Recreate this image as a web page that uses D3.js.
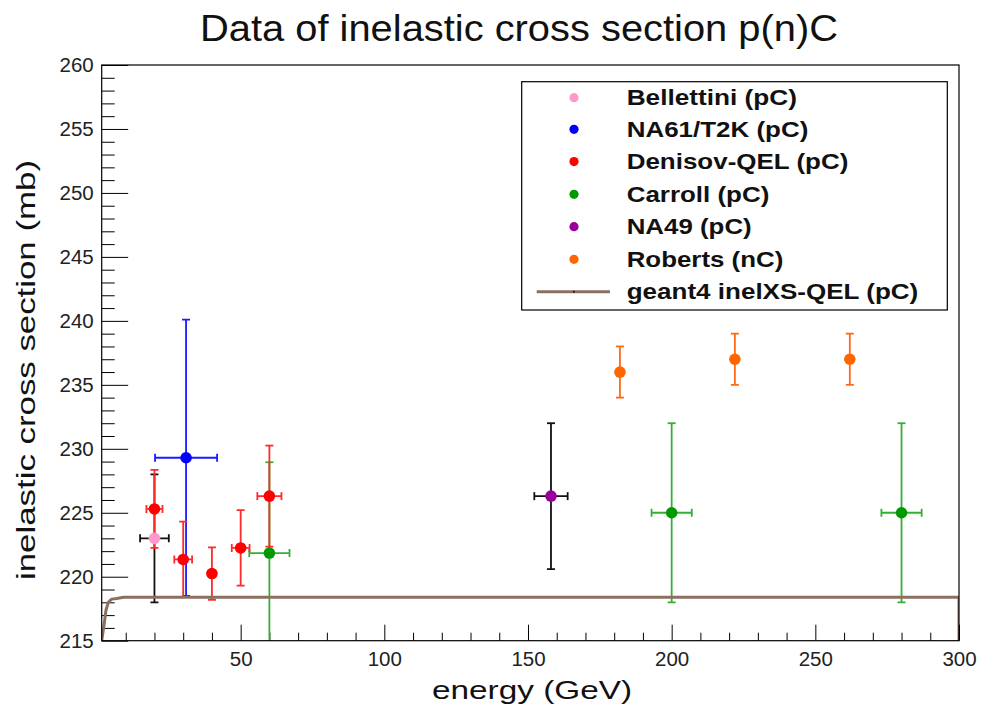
<!DOCTYPE html>
<html>
<head>
<meta charset="utf-8">
<script src="https://cdn.jsdelivr.net/npm/d3@7"></script>
<style>
  html, body { margin: 0; padding: 0; background: #fff; }
  svg { display: block; font-family: "Liberation Sans", Arial, Helvetica, sans-serif; }
</style>
</head>
<body>
<svg id="chart" width="992" height="707"></svg>
<script>
// ---- measurements: energy (GeV), inelastic cross section (mb) with errors ----
const bellettiniE = [20];
const bellettiniXS = [223.0];
const bellettiniErrE = [5];
const bellettiniErrXS = [5];

const na61E = [31];
const na61XS = [229.3];
const na61ErrE = [10.8];
const na61ErrXS = [10.8];

const denisovE = [20, 30, 40, 50, 60];
const denisovXS = [225.3, 221.35, 220.25, 222.25, 226.3];
const denisovErrE = [2.8, 3.1, 0, 3.1, 4.2];
const denisovErrXS = [3.05, 2.95, 2.05, 2.95, 3.95];

const carrollE = [60, 200, 280];
const carrollXS = [221.85, 225, 225];
const carrollErrE = [7, 7, 7];
const carrollErrXS = [7.1, 7, 7];

const na49E = [158];
const na49XS = [226.3];
const na49ErrE = [5.8];
const na49ErrXS = [5.7];

const robertsE = [182, 222, 262];
const robertsXS = [236, 237, 237];
const robertsErrE = [0, 0, 0];
const robertsErrXS = [2, 2, 2];

// geant4 model curve
const geant4E = [1.64, 2.44, 3.14, 3.94, 5.12, 6.86, 9.2, 300, 300];
const geant4XS = [215, 216.2, 217.4, 218.0, 218.25, 218.3, 218.4, 218.4, 215];

const legendLabels = ["Bellettini (pC)", "NA61/T2K (pC)", "Denisov-QEL (pC)", "Carroll (pC)",
                      "NA49 (pC)", "Roberts (nC)", "geant4 inelXS-QEL (pC)"];
const xTickValues = [50, 100, 150, 200, 250, 300];
const yTickValues = [215, 220, 225, 230, 235, 240, 245, 250, 255, 260];

const titleText = "Data of inelastic cross section p(n)C";
const xTitle = "energy (GeV)";
const yTitle = "inelastic cross section (mb)";

// ---- layout ----
const svg = d3.select("#chart");
const frame = { left: 101.7, right: 959, top: 65, bottom: 640.7 };

const x = d3.scaleLinear().domain([1.64, 300]).range([frame.left, frame.right]);
const y = d3.scaleLinear().domain([215, 260]).range([frame.bottom, frame.top]);

svg.append("rect").attr("width", 992).attr("height", 707).attr("fill", "#fff");

svg.append("defs").append("clipPath").attr("id", "plotClip")
  .append("rect")
  .attr("x", frame.left).attr("y", frame.top)
  .attr("width", frame.right - frame.left).attr("height", frame.bottom - frame.top);

// ---- axes (ticks drawn inward, as in ROOT) ----
const xMinor = d3.range(10, 301, 10).filter(v => v % 50 !== 0);
const yMinor = d3.range(215, 261, 1).filter(v => v % 5 !== 0);

const xAxisG = svg.append("g").attr("transform", `translate(0,${frame.bottom})`);
xAxisG.call(d3.axisBottom(x).tickValues(xTickValues).tickSize(-16).tickPadding(10).tickFormat(d3.format("d")));
svg.append("g").attr("transform", `translate(0,${frame.bottom})`)
  .call(d3.axisBottom(x).tickValues(xMinor).tickSize(-8).tickFormat(""))
  .call(g => g.select(".domain").remove());

const yAxisG = svg.append("g").attr("transform", `translate(${frame.left},0)`);
yAxisG.call(d3.axisLeft(y).tickValues(yTickValues).tickSize(-26.5).tickPadding(8).tickFormat(d3.format("d")));
svg.append("g").attr("transform", `translate(${frame.left},0)`)
  .call(d3.axisLeft(y).tickValues(yMinor).tickSize(-13).tickFormat(""))
  .call(g => g.select(".domain").remove());

[xAxisG, yAxisG].forEach(g => g.select(".domain").remove());
svg.selectAll(".tick line").attr("stroke", "#000").attr("stroke-width", 1);
svg.selectAll(".tick text")
  .attr("font-family", "Liberation Sans, Arial, sans-serif")
  .attr("font-size", 20.5).attr("fill", "#222");
xAxisG.selectAll(".tick text").attr("dy", null).attr("y", 25.5);

// ---- data series ----
const series = [
  { E: bellettiniE, XS: bellettiniXS, eE: bellettiniErrE, eXS: bellettiniErrXS, marker: "#ff99cc", err: "#111" },
  { E: na61E, XS: na61XS, eE: na61ErrE, eXS: na61ErrXS, marker: "#0000ff", err: "#1a1aff" },
  { E: carrollE, XS: carrollXS, eE: carrollErrE, eXS: carrollErrXS, marker: "#009900", err: "#33b033" },
  { E: denisovE, XS: denisovXS, eE: denisovErrE, eXS: denisovErrXS, marker: "#ff0000", err: "#ff2a2a" },
  { E: na49E, XS: na49XS, eE: na49ErrE, eXS: na49ErrXS, marker: "#990099", err: "#111" },
  { E: robertsE, XS: robertsXS, eE: robertsErrE, eXS: robertsErrXS, marker: "#ff6600", err: "#ff6a14" }
];
const legendColors = ["#ff99cc", "#0000ff", "#ff0000", "#009900", "#990099", "#ff6600"];

const plot = svg.append("g").attr("clip-path", "url(#plotClip)");
const cap = 4;

series.forEach(s => {
  const g = plot.append("g").attr("stroke", s.err).attr("stroke-width", 1.8).attr("fill", "none");
  s.E.forEach((e, i) => {
    const v = s.XS[i], cx = x(e), cy = y(v);
    const y0 = y(v - s.eXS[i]), y1 = y(v + s.eXS[i]);
    g.append("line").attr("x1", cx).attr("x2", cx).attr("y1", y0).attr("y2", y1);
    g.append("line").attr("x1", cx - cap).attr("x2", cx + cap).attr("y1", y0).attr("y2", y0);
    g.append("line").attr("x1", cx - cap).attr("x2", cx + cap).attr("y1", y1).attr("y2", y1);
    if (s.eE[i] > 0) {
      const x0 = x(e - s.eE[i]), x1 = x(e + s.eE[i]);
      g.append("line").attr("x1", x0).attr("x2", x1).attr("y1", cy).attr("y2", cy);
      g.append("line").attr("x1", x0).attr("x2", x0).attr("y1", cy - cap).attr("y2", cy + cap);
      g.append("line").attr("x1", x1).attr("x2", x1).attr("y1", cy - cap).attr("y2", cy + cap);
    }
  });
});

series.forEach(s => {
  plot.append("g").selectAll("circle")
    .data(s.E.map((e, i) => [e, s.XS[i]]))
    .join("circle")
    .attr("cx", d => x(d[0])).attr("cy", d => y(d[1]))
    .attr("r", 5.8).attr("fill", s.marker);
});

// geant4 curve
const line = d3.line().x(d => x(d[0])).y(d => y(d[1]));
plot.append("path")
  .datum(geant4E.map((e, i) => [e, geant4XS[i]]))
  .attr("d", line)
  .attr("fill", "none").attr("stroke", "#8c705f").attr("stroke-width", 3)
  .attr("stroke-linejoin", "round");

// frame
svg.append("rect")
  .attr("x", frame.left).attr("y", frame.top)
  .attr("width", frame.right - frame.left).attr("height", frame.bottom - frame.top)
  .attr("fill", "none").attr("stroke", "#000").attr("stroke-width", 1.2);

// ---- titles ----
svg.append("text").attr("x", 200).attr("y", 41)
  .attr("font-size", 37).attr("fill", "#111")
  .attr("textLength", 638).attr("lengthAdjust", "spacingAndGlyphs")
  .text(titleText);

svg.append("text").attr("x", 432).attr("y", 699)
  .attr("font-size", 25.6).attr("fill", "#111")
  .attr("textLength", 200).attr("lengthAdjust", "spacingAndGlyphs")
  .text(xTitle);

svg.append("text")
  .attr("transform", "translate(35,580) rotate(-90)")
  .attr("font-size", 26.5).attr("fill", "#111")
  .attr("textLength", 420).attr("lengthAdjust", "spacingAndGlyphs")
  .text(yTitle);

// ---- legend ----
const legend = svg.append("g");
legend.append("rect")
  .attr("x", 521.7).attr("y", 81.7).attr("width", 425.6).attr("height", 228.3)
  .attr("fill", "#fff").attr("stroke", "#000").attr("stroke-width", 1.2);

const rowY = [97.7, 129.3, 161.6, 194.3, 226.7, 259.3, 291.7];
const textRight = [797, 808.3, 848.3, 769.3, 751.7, 783.3, 918.3];
legendLabels.forEach((lab, i) => {
  if (i < legendColors.length) {
    legend.append("circle").attr("cx", 574).attr("cy", rowY[i]).attr("r", 4.6).attr("fill", legendColors[i]);
  } else {
    legend.append("line").attr("x1", 536.7).attr("x2", 610).attr("y1", rowY[i]).attr("y2", rowY[i])
      .attr("stroke", "#8c705f").attr("stroke-width", 3);
    legend.append("rect").attr("x", 573).attr("y", rowY[i] - 0.8).attr("width", 1.6).attr("height", 1.6).attr("fill", "#000");
  }
  legend.append("text")
    .attr("x", 626.7).attr("y", rowY[i] + 7.6)
    .attr("font-size", 21.3).attr("font-weight", "bold").attr("fill", "#111")
    .attr("textLength", textRight[i] - 626.7).attr("lengthAdjust", "spacingAndGlyphs")
    .text(lab);
});
</script>
</body>
</html>
